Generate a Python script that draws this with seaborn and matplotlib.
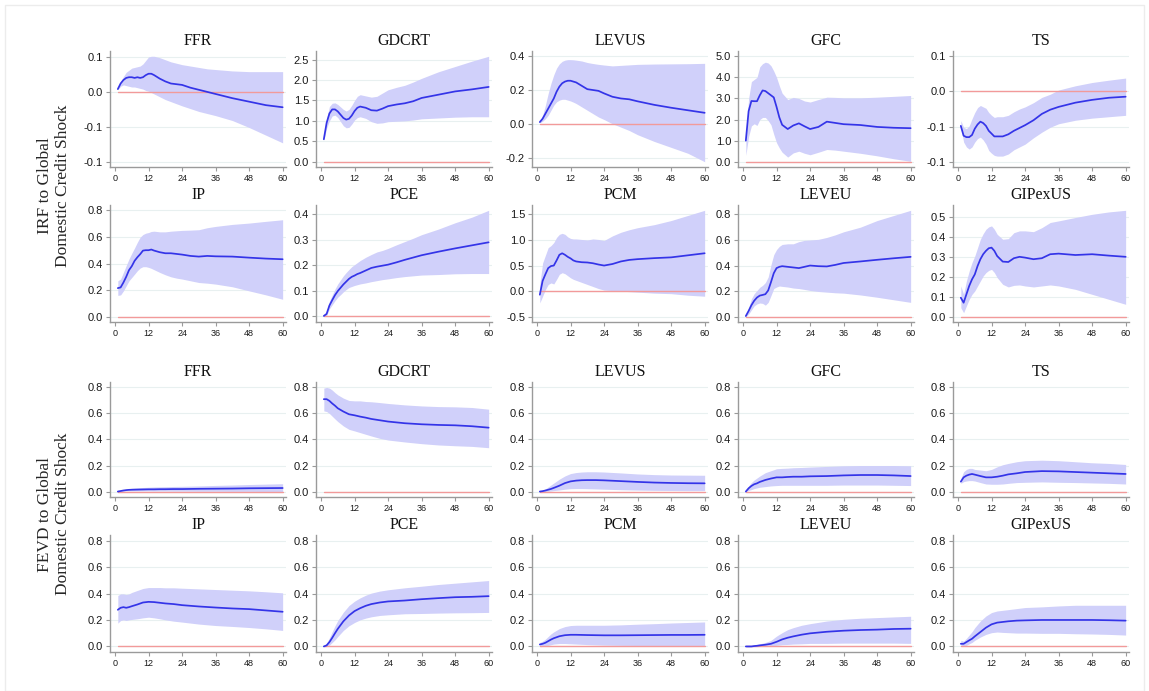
import numpy as np
import pandas as pd
import matplotlib
matplotlib.use("Agg")
import matplotlib.pyplot as plt
from matplotlib.ticker import FormatStrFormatter
import seaborn as sns

# ---------------------------------------------------------------------------
# Horizons (months)
# ---------------------------------------------------------------------------
irf_h = [1, 2, 3, 4, 5, 6, 7, 8, 9, 10, 11, 12, 13, 14, 16, 18, 20, 22, 24,
         27, 30, 33, 36, 42, 48, 54, 60]
fevd_h = [1, 2, 3, 4, 5, 6, 8, 10, 12, 14, 16, 18, 21, 24, 30, 36, 42, 48, 54, 60]

variables = ["FFR", "GDCRT", "LEVUS", "GFC", "TS",
             "IP", "PCE", "PCM", "LEVEU", "GIPexUS"]

# ---------------------------------------------------------------------------
# Impulse responses: estimate, lower band, upper band
# ---------------------------------------------------------------------------
ffr_irf = [.004, .012, .017, .020, .021, .021, .020, .021, .020, .021, .024, .026, .026, .024,
           .019, .015, .012, .011, .010, .006, .003, .000, -.003, -.009, -.014, -.019, -.022]
ffr_irf_lo = [.003, .008, .010, .009, .008, .007, .007, .006, .005, .004, .002, .001, -.001, -.003,
              -.007, -.011, -.014, -.017, -.020, -.024, -.028, -.031, -.034, -.041, -.051, -.062, -.073]
ffr_irf_hi = [.005, .014, .022, .028, .031, .034, .035, .036, .037, .040, .045, .050, .051, .051,
              .049, .046, .043, .041, .039, .037, .035, .033, .032, .030, .029, .029, .029]

gdcrt_irf = [.55, .95, 1.18, 1.28, 1.28, 1.23, 1.15, 1.07, 1.03, 1.05, 1.13, 1.24, 1.32, 1.35,
             1.32, 1.26, 1.25, 1.30, 1.36, 1.40, 1.43, 1.48, 1.56, 1.64, 1.72, 1.77, 1.83]
gdcrt_irf_lo = [.52, .82, 1.00, 1.12, 1.14, 1.08, .98, .88, .83, .84, .92, 1.02, 1.08, 1.10,
                1.06, .98, .94, .95, .98, .99, 1.00, 1.02, 1.05, 1.07, 1.09, 1.10, 1.10]
gdcrt_irf_hi = [.58, 1.05, 1.35, 1.43, 1.44, 1.40, 1.34, 1.28, 1.24, 1.28, 1.38, 1.50, 1.60, 1.64,
                1.61, 1.58, 1.60, 1.68, 1.76, 1.82, 1.87, 1.95, 2.04, 2.20, 2.33, 2.46, 2.58]

levus_irf = [.01, .03, .06, .09, .12, .15, .19, .22, .24, .25, .255, .255, .25, .245,
             .225, .205, .20, .195, .18, .16, .15, .145, .133, .112, .095, .08, .065]
levus_irf_lo = [.005, .015, .03, .05, .08, .11, .13, .14, .145, .145, .14, .135, .128, .12,
                .10, .08, .06, .04, .025, .0, -.02, -.04, -.065, -.105, -.14, -.175, -.225]
levus_irf_hi = [.015, .05, .11, .18, .24, .29, .33, .355, .37, .377, .38, .38, .379, .377,
                .372, .363, .357, .352, .348, .343, .346, .349, .352, .354, .355, .356, .358]

gfc_irf = [1.0, 2.4, 2.88, 2.87, 2.87, 3.15, 3.38, 3.35, 3.25, 3.15, 3.05, 2.6, 2.1, 1.75,
           1.55, 1.72, 1.82, 1.68, 1.55, 1.65, 1.9, 1.84, 1.78, 1.74, 1.65, 1.61, 1.59]
gfc_irf_lo = [0.3, 1.2, 1.7, 1.8, 1.72, 2.0, 2.1, 2.1, 1.95, 1.75, 1.3, 0.9, 0.65, 0.45,
              0.22, 0.42, 0.5, 0.4, 0.33, 0.45, 0.58, 0.55, 0.5, 0.4, 0.28, 0.14, 0.02]
gfc_irf_hi = [1.2, 3.0, 3.8, 3.9, 4.0, 4.5, 4.65, 4.72, 4.68, 4.55, 4.3, 4.0, 3.6, 3.25,
              2.95, 3.05, 3.0, 2.88, 2.83, 2.95, 3.06, 3.05, 3.03, 3.03, 3.06, 3.1, 3.14]

ts_irf = [-.049, -.063, -.065, -.065, -.062, -.053, -.047, -.043, -.045, -.049, -.056, -.060, -.064, -.064,
          -.064, -.061, -.056, -.052, -.048, -.041, -.032, -.026, -.022, -.016, -.012, -.009, -.0075]
ts_irf_lo = [-.051, -.072, -.079, -.082, -.079, -.072, -.067, -.065, -.069, -.075, -.084, -.088, -.091, -.092,
             -.092, -.089, -.083, -.079, -.075, -.066, -.058, -.051, -.046, -.041, -.038, -.036, -.034]
ts_irf_hi = [-.0415, -.051, -.053, -.049, -.039, -.030, -.023, -.020, -.022, -.024, -.030, -.034, -.037, -.036,
             -.036, -.034, -.029, -.025, -.022, -.016, -.0085, -.004, .002, .008, .0127, .016, .019]

ip_irf = [.215, .22, .257, .30, .35, .38, .42, .447, .47, .497, .50, .50, .505, .497,
          .485, .477, .477, .472, .467, .457, .452, .457, .454, .452, .444, .437, .432]
ip_irf_lo = [.16, .164, .194, .232, .27, .295, .32, .346, .366, .376, .376, .371, .363, .353,
             .333, .315, .30, .29, .283, .27, .257, .252, .245, .225, .194, .164, .131]
ip_irf_hi = [.27, .283, .333, .384, .434, .477, .517, .56, .598, .618, .628, .633, .641, .643,
             .638, .638, .643, .646, .649, .651, .654, .669, .679, .694, .704, .717, .729]

pce_irf = [.0, .008, .041, .062, .082, .098, .111, .124, .135, .146, .154, .159, .165, .169,
           .179, .189, .194, .198, .202, .211, .221, .230, .239, .253, .266, .278, .29]
pce_irf_lo = [-.003, .001, .028, .044, .06, .074, .084, .095, .104, .112, .116, .12, .123, .126,
              .13, .135, .139, .143, .146, .151, .155, .158, .161, .163, .166, .167, .167]
pce_irf_hi = [.003, .017, .058, .082, .106, .126, .142, .158, .171, .183, .194, .202, .21, .218,
              .231, .242, .252, .258, .266, .28, .293, .306, .32, .342, .367, .389, .416]

pcm_irf = [-.07, .2, .33, .45, .49, .50, .6, .71, .74, .71, .67, .64, .60, .58,
           .565, .56, .545, .52, .50, .53, .58, .61, .625, .645, .66, .70, .74]
pcm_irf_lo = [-.23, -.1, .03, .13, .16, .14, .23, .33, .36, .34, .30, .26, .23, .21,
              .17, .13, .09, .05, .02, .01, .0, -.01, -.02, -.04, -.05, -.08, -.10]
pcm_irf_hi = [.13, .55, .70, .85, .89, .95, 1.05, 1.11, 1.13, 1.11, 1.06, 1.03, 1.02, 1.02,
              1.01, 1.0, 1.02, 1.01, .99, 1.08, 1.15, 1.2, 1.24, 1.30, 1.38, 1.48, 1.58]

leveu_irf = [.005, .045, .09, .125, .15, .165, .17, .176, .205, .27, .34, .38, .39, .395,
             .39, .385, .38, .39, .40, .395, .393, .405, .42, .432, .445, .457, .468]
leveu_irf_lo = [.0, .02, .053, .085, .1, .107, .104, .09, .112, .165, .22, .232, .24, .237,
                .232, .224, .22, .213, .205, .197, .192, .187, .184, .17, .152, .132, .112]
leveu_irf_hi = [.01, .07, .14, .18, .205, .23, .245, .267, .31, .405, .485, .525, .55, .565,
                .57, .57, .587, .597, .60, .605, .62, .64, .664, .70, .752, .792, .832]

gipexus_irf = [.095, .07, .112, .154, .187, .212, .254, .288, .313, .33, .343, .346, .33, .304,
               .276, .274, .293, .30, .296, .288, .293, .313, .316, .309, .313, .306, .30]
gipexus_irf_lo = [.045, .02, .054, .087, .112, .129, .154, .179, .204, .221, .232, .237, .221, .196,
                  .162, .149, .157, .159, .154, .149, .154, .159, .154, .137, .112, .087, .062]
gipexus_irf_hi = [.154, .112, .179, .229, .271, .304, .346, .388, .416, .438, .45, .455, .438, .413,
                  .388, .391, .421, .43, .43, .426, .446, .472, .48, .497, .513, .525, .533]

# ---------------------------------------------------------------------------
# Forecast error variance shares: estimate, lower band, upper band
# ---------------------------------------------------------------------------
ffr_fevd = [.0, .004, .008, .011, .013, .014, .015, .016, .017, .017, .018, .018, .019, .019,
            .021, .022, .023, .025, .026, .027]
ffr_fevd_lo = [.0, .002, .004, .005, .005, .005, .005, .005, .005, .004, .004, .004, .003, .003,
               .002, .002, .001, .001, .0, .0]
ffr_fevd_hi = [.002, .007, .012, .017, .021, .025, .029, .031, .033, .035, .036, .037, .039, .040,
               .043, .047, .050, .054, .057, .060]

gdcrt_fevd = [.71, .71, .697, .677, .66, .64, .615, .594, .586, .576, .568, .558, .548, .538,
              .525, .517, .512, .509, .502, .491]
gdcrt_fevd_lo = [.62, .615, .60, .579, .558, .538, .504, .478, .466, .453, .44, .427, .409, .396,
                 .381, .368, .358, .352, .347, .337]
gdcrt_fevd_hi = [.795, .80, .795, .78, .76, .743, .718, .70, .697, .697, .692, .69, .684, .677,
                 .666, .658, .653, .651, .646, .633]

levus_fevd = [.0, .003, .008, .014, .02, .028, .045, .065, .078, .084, .087, .088, .088, .086,
              .08, .074, .069, .066, .064, .063]
levus_fevd_lo = [.0, .0, .0, .002, .004, .007, .012, .018, .022, .023, .023, .022, .02, .018,
                 .014, .011, .009, .008, .007, .007]
levus_fevd_hi = [.002, .01, .02, .035, .05, .065, .095, .12, .138, .146, .15, .152, .152, .15,
                 .143, .135, .13, .127, .126, .125]

gfc_fevd = [.0, .025, .043, .056, .063, .074, .089, .10, .109, .109, .112, .114, .114, .117,
            .119, .124, .127, .127, .124, .119]
gfc_fevd_lo = [.0, .008, .015, .023, .028, .033, .038, .043, .046, .048, .048, .048, .048, .048,
               .048, .05, .05, .05, .048, .046]
gfc_fevd_hi = [.005, .043, .069, .089, .104, .119, .145, .16, .175, .178, .18, .183, .185, .188,
               .193, .198, .2, .2, .2, .198]

ts_fevd = [.076, .109, .122, .13, .135, .13, .119, .109, .109, .114, .122, .132, .14, .15,
           .157, .155, .15, .145, .14, .135]
ts_fevd_lo = [.063, .076, .081, .084, .084, .081, .069, .058, .056, .056, .058, .063, .069, .071,
              .074, .071, .069, .066, .063, .058]
ts_fevd_hi = [.10, .152, .17, .178, .178, .17, .165, .16, .17, .19, .206, .216, .229, .237,
              .241, .237, .229, .221, .216, .208]

ip_fevd = [.277, .292, .297, .292, .297, .304, .317, .332, .337, .335, .33, .325, .32, .312,
           .302, .294, .287, .282, .272, .262]
ip_fevd_lo = [.176, .196, .201, .196, .201, .204, .209, .216, .221, .216, .209, .201, .191, .184,
              .169, .158, .151, .143, .133, .121]
ip_fevd_hi = [.385, .397, .397, .392, .397, .408, .423, .438, .445, .445, .445, .443, .443, .44,
              .435, .43, .425, .42, .413, .405]

pce_fevd = [.0, .008, .033, .065, .1, .133, .19, .234, .267, .289, .307, .32, .332, .34,
            .347, .357, .365, .372, .375, .38]
pce_fevd_lo = [-.003, .0, .01, .03, .05, .075, .121, .156, .181, .201, .214, .224, .234, .239,
               .247, .249, .252, .254, .255, .257]
pce_fevd_hi = [.005, .025, .065, .111, .156, .196, .259, .309, .342, .367, .387, .403, .418, .428,
               .443, .455, .468, .478, .488, .498]

pcm_fevd = [.015, .02, .028, .04, .052, .062, .077, .085, .088, .088, .087, .086, .085, .084,
            .084, .085, .086, .087, .087, .088]
pcm_fevd_lo = [-.002, .0, .003, .008, .013, .018, .022, .022, .02, .018, .016, .014, .012, .01,
               .008, .007, .006, .005, .005, .005]
pcm_fevd_hi = [.03, .04, .055, .075, .095, .11, .135, .15, .158, .16, .16, .16, .16, .16,
               .163, .168, .172, .177, .181, .185]

leveu_fevd = [.0, .0, .0, .003, .005, .008, .013, .02, .035, .053, .066, .076, .089, .099,
              .111, .119, .124, .127, .132, .134]
leveu_fevd_lo = [-.003, -.003, -.002, -.002, -.001, .0, .0, .003, .008, .013, .015, .018, .02, .023,
                 .023, .025, .025, .025, .025, .023]
leveu_fevd_hi = [.003, .003, .005, .01, .015, .02, .03, .046, .078, .104, .127, .142, .16, .172,
                 .192, .205, .213, .218, .223, .228]

gipexus_fevd = [.02, .02, .033, .046, .058, .076, .109, .142, .167, .18, .185, .19, .195, .197,
                .2, .2, .2, .2, .198, .195]
gipexus_fevd_lo = [.008, .005, .008, .02, .03, .046, .071, .091, .104, .109, .106, .104, .101, .101,
                   .099, .099, .096, .094, .091, .086]
gipexus_fevd_hi = [.046, .04, .061, .086, .111, .142, .192, .23, .256, .268, .273, .278, .286, .294,
                   .299, .306, .311, .311, .311, .311]

# y ticks of the impulse-response panels
irf_yticks = {
    "FFR": [-0.1, -0.05, 0.0, 0.05],
    "GDCRT": [0.0, 0.5, 1.0, 1.5, 2.0, 2.5],
    "LEVUS": [-0.2, 0.0, 0.2, 0.4],
    "GFC": [0.0, 1.0, 2.0, 3.0, 4.0, 5.0],
    "TS": [-0.1, -0.05, 0.0, 0.05],
    "IP": [0.0, 0.2, 0.4, 0.6, 0.8],
    "PCE": [0.0, 0.1, 0.2, 0.3, 0.4],
    "PCM": [-0.5, 0.0, 0.5, 1.0, 1.5],
    "LEVEU": [0.0, 0.2, 0.4, 0.6, 0.8],
    "GIPexUS": [0.0, 0.1, 0.2, 0.3, 0.4, 0.5],
}
fevd_yticks = [0.0, 0.2, 0.4, 0.6, 0.8]
x_ticks = [0, 12, 24, 36, 48, 60]

# ---------------------------------------------------------------------------
# Long-format tables
# ---------------------------------------------------------------------------
irf_series = {
    "FFR": (ffr_irf, ffr_irf_lo, ffr_irf_hi),
    "GDCRT": (gdcrt_irf, gdcrt_irf_lo, gdcrt_irf_hi),
    "LEVUS": (levus_irf, levus_irf_lo, levus_irf_hi),
    "GFC": (gfc_irf, gfc_irf_lo, gfc_irf_hi),
    "TS": (ts_irf, ts_irf_lo, ts_irf_hi),
    "IP": (ip_irf, ip_irf_lo, ip_irf_hi),
    "PCE": (pce_irf, pce_irf_lo, pce_irf_hi),
    "PCM": (pcm_irf, pcm_irf_lo, pcm_irf_hi),
    "LEVEU": (leveu_irf, leveu_irf_lo, leveu_irf_hi),
    "GIPexUS": (gipexus_irf, gipexus_irf_lo, gipexus_irf_hi),
}
fevd_series = {
    "FFR": (ffr_fevd, ffr_fevd_lo, ffr_fevd_hi),
    "GDCRT": (gdcrt_fevd, gdcrt_fevd_lo, gdcrt_fevd_hi),
    "LEVUS": (levus_fevd, levus_fevd_lo, levus_fevd_hi),
    "GFC": (gfc_fevd, gfc_fevd_lo, gfc_fevd_hi),
    "TS": (ts_fevd, ts_fevd_lo, ts_fevd_hi),
    "IP": (ip_fevd, ip_fevd_lo, ip_fevd_hi),
    "PCE": (pce_fevd, pce_fevd_lo, pce_fevd_hi),
    "PCM": (pcm_fevd, pcm_fevd_lo, pcm_fevd_hi),
    "LEVEU": (leveu_fevd, leveu_fevd_lo, leveu_fevd_hi),
    "GIPexUS": (gipexus_fevd, gipexus_fevd_lo, gipexus_fevd_hi),
}


def to_frame(series, horizons, kind):
    rows = []
    for var, (mid, lo, hi) in series.items():
        for h, m, l, u in zip(horizons, mid, lo, hi):
            rows.append({"kind": kind, "var": var, "h": h, "est": m, "lo": l, "hi": u})
    return pd.DataFrame(rows)


df = pd.concat([to_frame(irf_series, irf_h, "IRF"),
                to_frame(fevd_series, fevd_h, "FEVD")], ignore_index=True)

# ---------------------------------------------------------------------------
# Styling
# ---------------------------------------------------------------------------
sns.set_style("white")
plt.rcParams["font.family"] = ["Liberation Sans", "DejaVu Sans"]

SERIF = ["Liberation Serif", "DejaVu Serif"]
LINE_C = "#3434e8"
BAND_C = "#d0d0fa"
ZERO_C = "#f29a9a"
GRID_C = "#e8f0f0"
AXIS_C = "#9a9a9a"

W, H = 1149, 691
fig = plt.figure(figsize=(W / 100, H / 100), dpi=100)
fig.patch.set_facecolor("white")

col_left = [110, 316, 532, 738, 953]
ax_w = 176
row_span = [(51, 167), (205, 322), (382, 497), (535, 652)]


def panel(ax, sub, yticks, fixed_ylim=None):
    ax.fill_between(sub["h"], sub["lo"], sub["hi"], color=BAND_C, lw=0, zorder=1)
    ax.plot([1, 60], [0, 0], color=ZERO_C, lw=1.0, zorder=2)
    sns.lineplot(data=sub, x="h", y="est", ax=ax, color=LINE_C, lw=1.25,
                 estimator=None, zorder=3)
    for yt in yticks:
        ax.axhline(yt, color=GRID_C, lw=0.8, zorder=0)
    ax.set_xlim(-1.8, 61.2)
    if fixed_ylim is None:
        lo = min(min(sub["lo"]), min(yticks), 0.0)
        hi = max(max(sub["hi"]), max(yticks))
        pad = 0.05 * (hi - lo)
        ax.set_ylim(lo - pad, hi + pad)
    else:
        ax.set_ylim(*fixed_ylim)
    ax.set_xticks(x_ticks)
    ax.set_yticks(yticks)
    ax.yaxis.set_major_formatter(FormatStrFormatter("%.1f"))
    ax.set_xlabel("")
    ax.set_ylabel("")
    for s in ("top", "right"):
        ax.spines[s].set_visible(False)
    for s in ("left", "bottom"):
        ax.spines[s].set_color(AXIS_C)
        ax.spines[s].set_linewidth(1.0)
    ax.tick_params(axis="y", length=3, width=0.8, color=AXIS_C, pad=2,
                   labelsize=8, labelcolor="#1a1a1a", left=True)
    ax.tick_params(axis="x", length=3, width=0.8, color=AXIS_C, pad=2,
                   labelsize=6.5, labelcolor="#1a1a1a", bottom=True)
    ax.set_facecolor("white")


for r in range(4):
    kind = "IRF" if r < 2 else "FEVD"
    top, bot = row_span[r]
    for c in range(5):
        var = variables[(r % 2) * 5 + c]
        ax = fig.add_axes([col_left[c] / W, 1 - bot / H, ax_w / W, (bot - top) / H])
        sub = df[(df["kind"] == kind) & (df["var"] == var)]
        if kind == "IRF":
            panel(ax, sub, irf_yticks[var])
        else:
            panel(ax, sub, fevd_yticks, fixed_ylim=(-0.042, 0.842))
        ax.set_title(var, fontsize=11.5, family=SERIF, pad=4, color="#111111")

fig.text(54 / W, 1 - 186 / H, "IRF to Global\nDomestic Credit Shock", rotation=90,
         ha="center", va="center", fontsize=12.5, family=SERIF, linespacing=1.1)
fig.text(54 / W, 1 - 514 / H, "FEVD to Global\nDomestic Credit Shock", rotation=90,
         ha="center", va="center", fontsize=12.5, family=SERIF, linespacing=1.1)

# light outer frame
frame = plt.Rectangle((5 / W, 0), 1 - 10 / W, 1 - 5 / H, transform=fig.transFigure,
                      fill=False, ec="#ececec", lw=1.0)
fig.add_artist(frame)

fig.savefig("out.png", dpi=100)
